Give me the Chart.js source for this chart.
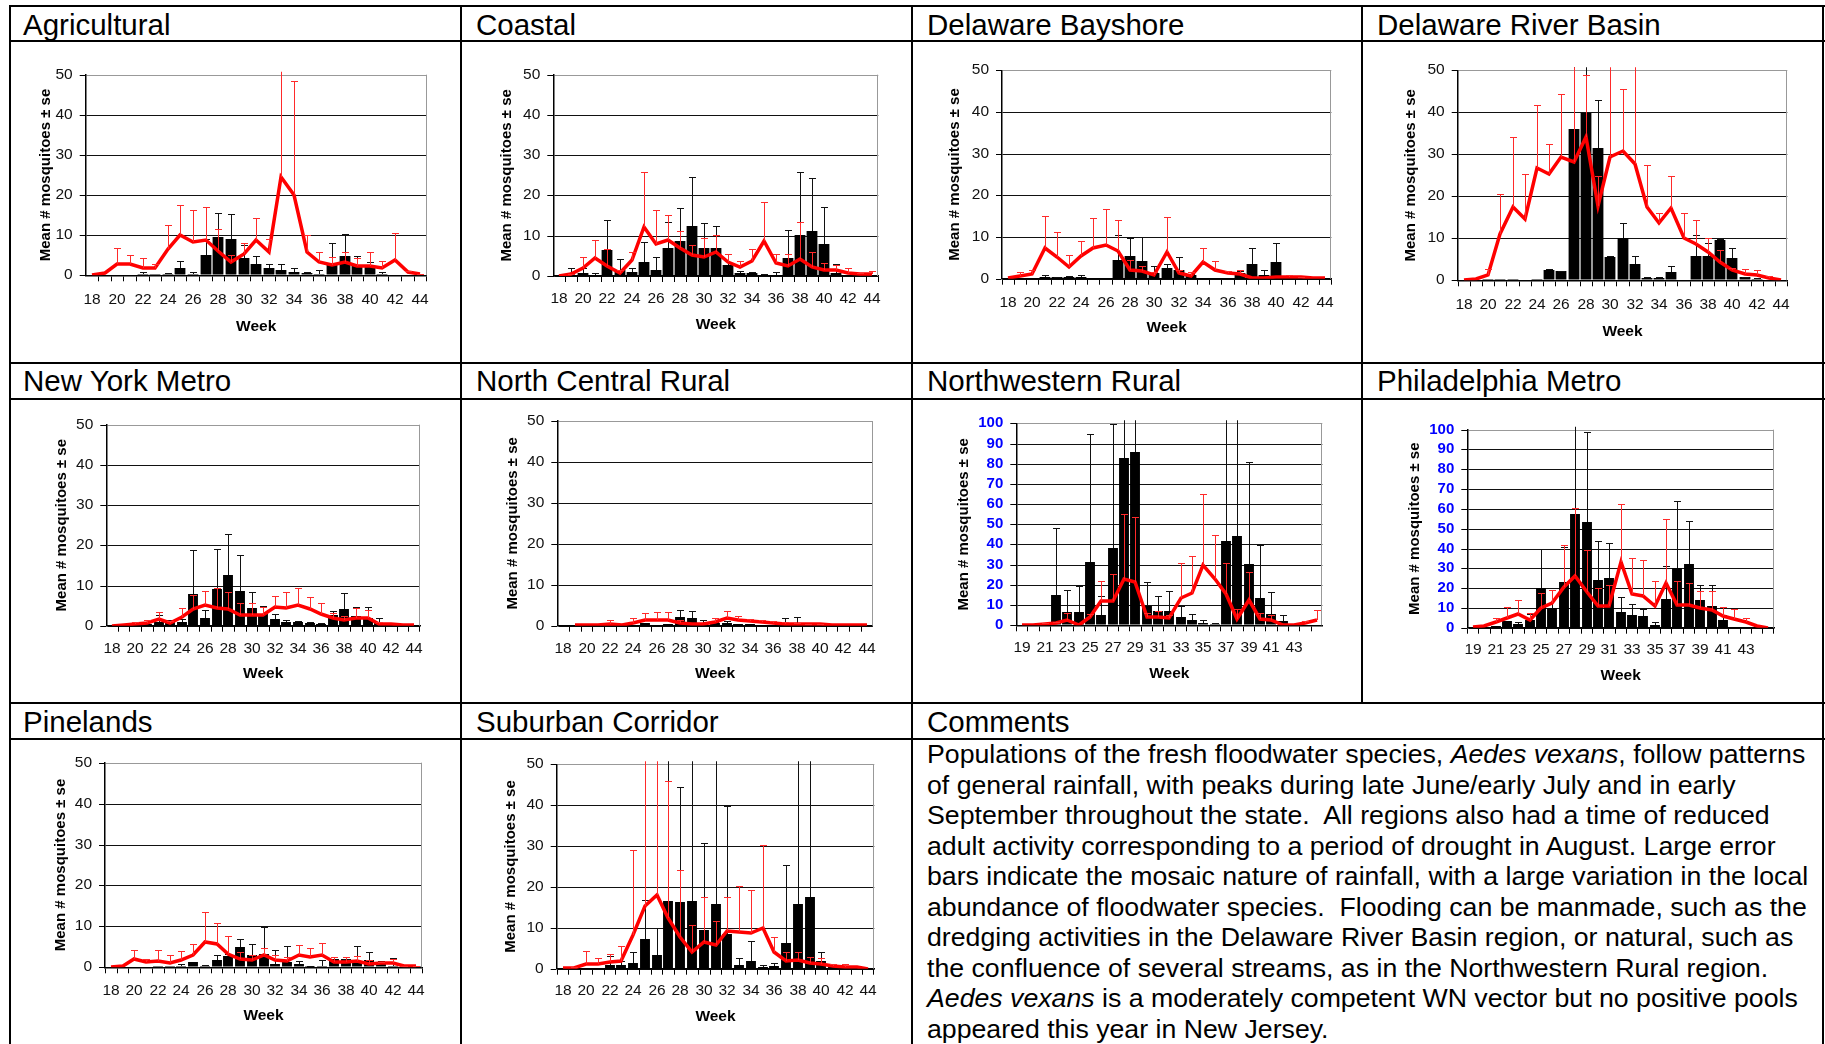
<!DOCTYPE html>
<html>
<head>
<meta charset="utf-8">
<script src="https://cdn.jsdelivr.net/npm/chart.js@4.4.1/dist/chart.umd.min.js"></script>
<style>
  html, body { margin: 0; padding: 0; background: #fff; }
  body { width: 1825px; height: 1044px; position: relative; overflow: hidden; font-family: "Liberation Sans", Arial, sans-serif; color: #000; }
  canvas { position: absolute; }
  .h, .v { position: absolute; background: #000; z-index: 2; }
  .h { height: 2px; }
  .v { width: 2px; }
  .ttl { position: absolute; font-size: 29.5px; line-height: 34px; white-space: nowrap; }
  #comments { position: absolute; left: 927px; top: 739px; font-size: 26.7px; line-height: 30.5px; white-space: nowrap; }
</style>
</head>
<body>
<div class="h" style="left:9px;top:5px;width:1816px"></div>
<div class="h" style="left:9px;top:40px;width:1816px"></div>
<div class="h" style="left:9px;top:362px;width:1816px"></div>
<div class="h" style="left:9px;top:398px;width:1816px"></div>
<div class="h" style="left:9px;top:702px;width:1816px"></div>
<div class="h" style="left:9px;top:738px;width:1816px"></div>
<div class="v" style="left:9px;top:5px;height:1039px"></div>
<div class="v" style="left:460px;top:5px;height:1039px"></div>
<div class="v" style="left:911px;top:5px;height:1039px"></div>
<div class="v" style="left:1361px;top:5px;height:699px"></div>
<div class="v" style="left:1822px;top:5px;height:1039px"></div>

<div class="ttl" style="left:23px;top:8px">Agricultural</div>
<div class="ttl" style="left:476px;top:8px">Coastal</div>
<div class="ttl" style="left:927px;top:8px">Delaware Bayshore</div>
<div class="ttl" style="left:1377px;top:8px">Delaware River Basin</div>
<div class="ttl" style="left:23px;top:364px">New York Metro</div>
<div class="ttl" style="left:476px;top:364px">North Central Rural</div>
<div class="ttl" style="left:927px;top:364px">Northwestern Rural</div>
<div class="ttl" style="left:1377px;top:364px">Philadelphia Metro</div>
<div class="ttl" style="left:23px;top:705px">Pinelands</div>
<div class="ttl" style="left:476px;top:705px">Suburban Corridor</div>
<div class="ttl" style="left:927px;top:705px">Comments</div>

<div id="comments">Populations of the fresh floodwater species, <i>Aedes vexans</i>, follow patterns<br>of general rainfall, with peaks during late June/early July and in early<br>September throughout the state.&nbsp; All regions also had a time of reduced<br>adult activity corresponding to a period of drought in August. Large error<br>bars indicate the mosaic nature of rainfall, with a large variation in the local<br>abundance of floodwater species.&nbsp; Flooding can be manmade, such as the<br>dredging activities in the Delaware River Basin region, or natural, such as<br>the confluence of several streams, as in the Northwestern Rural region.<br><i>Aedes vexans</i> is a moderately competent WN vector but no positive pools<br>appeared this year in New Jersey.</div>

<script>
// weeks on the x axis
const weeksA = ['18','19','20','21','22','23','24','25','26','27','28','29','30','31','32','33','34','35','36','37','38','39','40','41','42','43','44'];
const weeksB = ['19','20','21','22','23','24','25','26','27','28','29','30','31','32','33','34','35','36','37','38','39','40','41','42','43','44','45'];
const shownA = ['18','20','22','24','26','28','30','32','34','36','38','40','42','44'];
const shownB = ['19','21','23','25','27','29','31','33','35','37','39','41','43'];

// bars = black columns, line = red line; *Hi = top of the "+ se" error bar
const agriBars = [0, 0, 0.1, 0.1, 0.4, 0.2, 0.3, 1.8, 0.4, 5.0, 9.6, 9.1, 4.4, 2.9, 1.7, 1.4, 0.9, 0.6, 0.3, 2.7, 4.7, 2.6, 2.2, 0.4, 0, 0, 0];
const agriBarHi = [null, null, null, null, 0.8, null, 0.6, 3.5, 0.8, 9.1, 15.5, 15.2, 7.5, 4.9, 2.7, 2.9, 1.8, 0.7, 1.3, 8.1, 10.2, 4.8, 3.2, 0.7, null, null, null];
const agriLine = [0.1, 0.5, 2.7, 2.7, 1.9, 1.7, 6.5, 10.0, 8.2, 8.7, 6.1, 3.4, 5.2, 8.7, 5.9, 24.5, 20.0, 5.9, 3.4, 2.6, 3.2, 2.3, 2.2, 1.7, 3.7, 0.8, 0.2];
const agriLineHi = [null, null, 6.9, 5.1, 4.3, 2.9, 12.5, 17.6, 16.3, 17.0, 11.5, 5.1, 8.1, 14.2, 9.1, 60, 48.4, 10.0, 5.7, 4.6, 5.9, 4.2, 5.9, 3.6, 10.6, 1.1, 0.3];

const coastBars = [0, 0.3, 0.8, 0.3, 6.5, 1.4, 1.1, 3.6, 1.6, 7.0, 8.6, 12.4, 7.0, 7.0, 2.8, 0.8, 0.7, 0.3, 0.2, 4.4, 10.1, 11.2, 7.9, 0.8, 0, 0, 0];
const coastBarHi = [null, 2.1, 1.9, 0.7, 13.8, 4.1, 2.0, 8.5, 4.6, 13.4, 17.0, 24.7, 13.1, 12.3, 5.5, 1.2, 1.0, 0.4, 1.0, 11.5, 25.9, 24.3, 17.2, 3.0, null, null, null];
const coastLine = [0.1, 0.4, 1.9, 4.4, 2.5, 0.8, 4.0, 12.2, 8.0, 8.9, 7.0, 5.1, 4.8, 6.0, 3.5, 2.2, 3.7, 8.7, 3.3, 2.5, 4.3, 2.3, 1.6, 1.4, 0.8, 0.4, 0.5];
const coastLineHi = [null, 0.6, 4.8, 9.0, 6.8, 1.5, 6.0, 25.9, 16.4, 15.1, 11.3, 7.6, 9.5, 10.1, 5.5, 3.7, 6.8, 18.5, 5.5, 5.5, 13.3, 6.0, 3.3, 2.7, 2.0, 0.8, 1.3];

const bayBars = [0, 0.1, 0.1, 0.3, 0.4, 0.3, 0.5, 0.1, 0.1, 4.5, 5.4, 4.2, 1.4, 2.6, 2.2, 1.0, 0.2, 0.1, 0.1, 1.3, 3.5, 1.0, 4.0, 0.4, 0, 0, 0];
const bayBarHi = [null, null, null, 1.0, 0.5, 0.7, 1.0, null, null, 10.4, 9.8, 10.1, 3.1, 3.5, 5.1, 1.2, null, null, null, 1.8, 7.4, 2.2, 8.5, 0.9, null, null, null];
const bayLine = [0.2, 0.7, 1.2, 7.4, 5.2, 2.7, 5.4, 7.4, 8.2, 6.6, 2.2, 1.8, 1.0, 6.4, 1.3, 0.7, 4.0, 2.2, 1.3, 1.2, 0.2, 0.2, 0.3, 0.4, 0.3, 0.1, 0.1];
const bayLineHi = [null, 1.7, 2.1, 15.1, 11.3, 5.6, 9.0, 14.6, 16.7, 14.2, 4.6, 3.0, 1.6, 14.8, 2.0, 1.6, 7.4, 4.3, 1.8, 2.2, null, null, null, 0.8, 0.5, null, null];

const drbBars = [0, 0, 0.2, 0.3, 0.3, 0, 0.3, 2.5, 2.1, 36.0, 39.9, 31.5, 5.5, 10.1, 4.0, 0.6, 0.6, 2.0, 0, 5.7, 5.7, 9.6, 5.2, 0.8, 0.4, 0, 0];
const drbBarHi = [null, null, null, null, null, null, null, 2.7, 2.2, 54, 54, 42.9, 5.8, 13.7, 5.9, 0.7, 0.7, 3.4, null, 10.9, 9.0, 9.8, 7.8, 0.9, 0.5, null, null];
const drbLine = [0.1, 0.3, 1.3, 11.1, 17.5, 14.7, 26.7, 25.2, 29.4, 28.1, 34.0, 17.8, 29.4, 30.8, 27.6, 17.5, 13.7, 17.1, 10.1, 8.7, 6.7, 4.4, 2.4, 1.6, 1.3, 0.6, 0.1];
const drbLineHi = [null, null, 2.8, 20.6, 34.0, 25.3, 41.7, 32.5, 44.4, 55, 48.8, 24.8, 55, 45.6, 55, 27.4, 16.1, 24.9, 16.1, 14.4, 10.0, 7.3, 3.0, 2.8, 2.4, 1.0, null];

const nyBars = [0, 0, 0.3, 0.5, 1.0, 1.3, 0.8, 7.9, 1.8, 9.2, 12.6, 8.6, 4.3, 2.9, 1.6, 0.8, 0.8, 0.6, 0.4, 2.6, 4.2, 2.3, 1.8, 0.7, 0, 0, 0];
const nyBarHi = [null, null, null, 0.9, 2.7, 1.5, 1.7, 18.9, 4.0, 19.2, 22.9, 17.7, 8.4, 5.0, 2.9, 1.5, 1.2, 1.0, 0.6, 3.7, 8.2, 4.6, 4.7, 1.9, null, null, null];
const nyLine = [0, 0.1, 0.4, 0.7, 1.6, 0.6, 2.1, 4.1, 5.1, 4.5, 4.1, 2.7, 2.7, 2.7, 4.6, 4.3, 5.2, 4.2, 2.8, 1.9, 1.4, 1.9, 1.8, 0.4, 0.3, 0.1, 0.1];
const nyLineHi = [null, null, 0.8, 1.5, 3.5, 1.2, 4.5, 7.6, 8.6, 9.3, 8.5, 5.7, 5.6, 4.6, 7.5, 8.5, 9.4, 7.1, 5.7, 3.2, 2.4, 4.5, 4.0, 1.0, null, null, null];

const ncrBars = [0, 0, 0, 0, 0.3, 0, 0, 0.6, 0.2, 0.3, 2.2, 1.9, 0.4, 0.6, 0.6, 0.3, 0.3, 0.1, 0.2, 0.5, 0.7, 0, 0, 0, 0, 0, 0];
const ncrBarHi = [null, null, null, null, 0.6, null, null, null, null, null, 3.9, 3.7, 1.5, 1.0, 1.2, null, null, null, null, 2.0, 2.2, null, null, null, null, null, null];
const ncrLine = [null, 0.1, 0.1, 0.2, 0.3, 0.1, 0.7, 1.5, 1.3, 1.5, 0.7, 0.5, 0.5, 0.8, 2.0, 1.3, 1.1, 0.8, 0.7, 0.5, 0.3, 0.3, 0.3, 0.1, 0.1, 0.1, 0.1];
const ncrLineHi = [null, null, null, null, 1.3, null, 2.0, 3.0, 3.3, 3.3, 1.5, null, null, 2.0, 3.7, 2.4, 1.7, 1.4, 1.1, 0.8, 0.6, 0.5, 0.5, null, null, null, null];

const nwrBars = [0, 0, 0, 15.2, 6.4, 6.4, 31.4, 5.0, 38.1, 83.0, 85.8, 9.7, 6.9, 6.9, 4.0, 2.6, 1.3, 0.7, 41.9, 44.1, 30.4, 13.4, 5.6, 2.1, 0, 0, 0];
const nwrBarHi = [null, null, null, 48.0, 17.7, 19.5, 94.7, 14.7, 99.5, 110, 110, 21.6, 14.7, 17.2, 9.7, 5.4, 2.5, 0.9, 110, 110, 81.0, 39.9, 16.7, 5.3, null, null, null];
const nwrLine = [0.1, 0.2, 0.5, 1.2, 2.8, 0.3, 4.0, 11.9, 11.9, 22.9, 21.6, 4.3, 4.0, 3.6, 13.5, 15.8, 29.7, 22.9, 15.3, 3.1, 12.5, 3.1, 2.5, 0.3, 0, 1.2, 2.6];
const nwrLineHi = [null, null, 1.3, 1.8, 6.3, null, 5.6, 21.9, 25.2, 55.0, 53.6, 6.0, 7.1, 5.0, 30.7, 34.2, 64.9, 44.9, 31.0, 8.3, 26.6, 6.3, 5.3, null, null, 2.3, 7.4];

const phlBars = [0.3, 0.2, 1.0, 3.2, 1.7, 3.9, 20.2, 10.1, 23.1, 57.2, 53.4, 24.1, 25.1, 7.7, 6.6, 5.7, 1.5, 14.6, 30.0, 32.0, 14.1, 11.1, 3.7, 0, 0, 0, 0];
const phlBarHi = [null, null, null, null, 3.0, 7.1, 39.6, 19.0, 40.7, 105, 99.0, 43.8, 42.8, 15.7, 12.1, 9.6, 3.0, 31.0, 64.1, 53.9, 21.5, 21.5, 6.6, null, null, null, null];
const phlLine = [0.2, 0.7, 2.7, 4.9, 6.9, 3.7, 9.8, 12.6, 20.4, 26.3, 18.2, 11.1, 11.1, 33.3, 17.2, 16.2, 11.1, 22.4, 11.6, 11.3, 9.9, 8.9, 5.7, 4.2, 2.7, 0.7, 0];
const phlLineHi = [null, null, 5.1, 10.6, 14.1, 7.2, 17.5, 19.2, 41.9, 60.6, 39.4, 20.0, 21.5, 62.3, 35.4, 34.3, 23.6, 54.9, 23.6, 22.4, 18.5, 18.5, 10.6, 9.6, 5.1, null, null];

const pineBars = [0, 0, 0.1, 0.1, 0.3, 0.2, 0.3, 1.2, 0.3, 1.7, 2.8, 5.0, 2.9, 3.2, 0.8, 1.2, 0.8, 0.2, 0.2, 2.1, 2.0, 1.1, 1.7, 1.2, 0.4, 0, 0.2];
const pineBarHi = [null, null, null, null, null, null, 0.9, null, 0.5, 2.9, 3.2, 6.8, 5.6, 9.8, 4.2, 5.3, 1.6, 0.4, 1.7, 2.6, 2.0, 5.3, 3.7, 1.6, 2.2, null, null];
const pineLine = [0.1, 0.2, 2.0, 1.4, 1.5, 1.1, 1.9, 3.1, 6.1, 5.6, 3.3, 2.1, 1.8, 3.0, 1.8, 1.5, 2.9, 2.5, 2.9, 1.4, 1.4, 1.5, 0.9, 1.0, 1.0, 0.2, 0.2];
const pineLineHi = [null, null, 4.3, 2.1, 4.3, 2.9, 3.9, 5.8, 13.6, 10.9, 7.7, 3.7, 3.0, 4.8, 2.9, 2.6, 5.5, 4.6, 5.9, 2.4, 2.4, 2.8, 1.8, 1.4, 2.1, 0.3, 0.4];

const subBars = [0, 0, 0.2, 0.2, 1.0, 0.8, 1.3, 7.3, 3.4, 16.6, 16.4, 16.6, 9.4, 15.9, 8.4, 1.0, 1.8, 0.3, 0.6, 6.2, 15.9, 17.6, 1.8, 0.3, 0, 0, 0];
const subBarHi = [null, null, null, null, 3.0, 2.0, 4.0, 16.8, 9.9, 55, 44.4, 55, 30.8, 55, 39.7, 2.5, 6.7, 0.8, 1.5, 25.4, 55, 55, 4.0, 0.6, null, null, null];
const subLine = [0.1, 0.2, 1.2, 1.2, 1.7, 2.0, 8.2, 15.3, 18.0, 12.5, 7.8, 4.1, 6.5, 5.9, 9.2, 8.9, 8.8, 9.9, 4.0, 2.0, 2.1, 1.5, 1.2, 0.6, 0.5, 0.3, 0];
const subLineHi = [null, 0.5, 4.4, 2.6, 3.7, 5.6, 29.1, 55, 55, 46.0, 24.1, 10.8, 17.6, 11.7, 17.5, 20.3, 19.3, 30.3, 7.8, 4.2, 4.2, 2.9, 2.6, 1.1, 1.2, null, null];

// cell = canvas box; g = where the plot, axis title, tick labels and "Week" sit
const panels = [
  { cell: [11, 42, 449, 320], g: { l: 85.7, r: 426.7, t: 74.7, b: 275.3, yt: 46, xl: 299, wk: 327 },
    weeks: weeksA, shown: shownA, bars: agriBars, barHi: agriBarHi, line: agriLine, lineHi: agriLineHi, max: 50 },
  { cell: [462, 42, 449, 320], g: { l: 553.3, r: 878.3, t: 74.7, b: 276, yt: 506.7, xl: 298.7, wk: 325 },
    weeks: weeksA, shown: shownA, bars: coastBars, barHi: coastBarHi, line: coastLine, lineHi: coastLineHi, max: 50 },
  { cell: [913, 42, 448, 320], g: { l: 1002, r: 1331.3, t: 70.3, b: 278.7, yt: 955.3, xl: 302, wk: 328 },
    weeks: weeksA, shown: shownA, bars: bayBars, barHi: bayBarHi, line: bayLine, lineHi: bayLineHi, max: 50 },
  { cell: [1363, 42, 459, 320], g: { l: 1457.7, r: 1787.3, t: 70.3, b: 280.3, yt: 1411, xl: 304.3, wk: 331.7 },
    weeks: weeksA, shown: shownA, bars: drbBars, barHi: drbBarHi, line: drbLine, lineHi: drbLineHi, max: 50 },
  { cell: [11, 400, 449, 302], g: { l: 106.3, r: 420, t: 424.7, b: 625.7, yt: 61.7, xl: 648, wk: 673.7 },
    weeks: weeksA, shown: shownA, bars: nyBars, barHi: nyBarHi, line: nyLine, lineHi: nyLineHi, max: 50 },
  { cell: [462, 400, 449, 302], g: { l: 557.3, r: 872.7, t: 421, b: 625.7, yt: 512.7, xl: 648, wk: 673.7 },
    weeks: weeksA, shown: shownA, bars: ncrBars, barHi: ncrBarHi, line: ncrLine, lineHi: ncrLineHi, max: 50 },
  { cell: [913, 400, 448, 302], g: { l: 1016.3, r: 1322.3, t: 423.3, b: 625.3, yt: 964.3, xl: 647.3, wk: 674 },
    weeks: weeksB, shown: shownB, bars: nwrBars, barHi: nwrBarHi, line: nwrLine, lineHi: nwrLineHi, max: 100 },
  { cell: [1363, 400, 459, 302], g: { l: 1467.3, r: 1774, t: 429.7, b: 627.7, yt: 1415.3, xl: 649.7, wk: 675.7 },
    weeks: weeksB, shown: shownB, bars: phlBars, barHi: phlBarHi, line: phlLine, lineHi: phlLineHi, max: 100 },
  { cell: [11, 740, 449, 304], g: { l: 105, r: 422, t: 762.7, b: 967.3, yt: 60.7, xl: 990, wk: 1016 },
    weeks: weeksA, shown: shownA, bars: pineBars, barHi: pineBarHi, line: pineLine, lineHi: pineLineHi, max: 50 },
  { cell: [462, 740, 449, 304], g: { l: 556.7, r: 874.3, t: 764.3, b: 968.7, yt: 511, xl: 990.7, wk: 1016.7 },
    weeks: weeksA, shown: shownA, bars: subBars, barHi: subBarHi, line: subLine, lineHi: subLineHi, max: 50 },
];

Chart.defaults.font.family = '"Liberation Sans", Arial, sans-serif';
Chart.defaults.color = '#111';

// vertical "+ se" whiskers with a short cap, drawn right after their own dataset
const errorBars = {
  id: "errorBars",
  afterDatasetDraw(chart, args) {
    const ds = chart.data.datasets[args.index];
    if (!ds.upper) return;
    const { ctx, chartArea: a, scales: { x, y } } = chart;
    ctx.save();
    ctx.beginPath();
    ctx.rect(a.left, a.top - 3, a.right - a.left, a.bottom - a.top + 3);
    ctx.clip();
    ctx.strokeStyle = ds.errColor;
    ctx.lineWidth = 1;
    ds.upper.forEach((hi, i) => {
      const v = ds.data[i];
      if (hi == null || v == null) return;
      const px = Math.round(x.getPixelForValue(i)) + 0.5;
      const y0 = y.getPixelForValue(v);
      const y1 = Math.round(y.getPixelForValue(hi)) + 0.5;
      ctx.beginPath();
      ctx.moveTo(px, y0);
      ctx.lineTo(px, y1);
      ctx.moveTo(px - 3.5, y1);
      ctx.lineTo(px + 3.5, y1);
      ctx.stroke();
    });
    ctx.restore();
  },
};

// grey right edge of the plot area
const plotFrame = {
  id: "plotFrame",
  beforeDatasetsDraw(chart) {
    const { ctx, chartArea: a } = chart;
    const xr = Math.round(a.right) - 0.5;
    ctx.save();
    ctx.strokeStyle = "#999";
    ctx.lineWidth = 1;
    ctx.beginPath();
    ctx.moveTo(xr, a.top);
    ctx.lineTo(xr, a.bottom);
    ctx.stroke();
    ctx.restore();
  },
};

panels.forEach((p) => {
  const [cx, cy, cw, ch] = p.cell;
  const g = p.g;
  const cv = document.createElement("canvas");
  cv.width = cw;
  cv.height = ch;
  cv.style.left = cx + "px";
  cv.style.top = cy + "px";
  cv.style.width = cw + "px";
  cv.style.height = ch + "px";
  document.body.appendChild(cv);

  const padLeft = g.yt - 7.5 - cx;
  const yWidth = g.l - g.yt + 7.5;
  const padTop = g.t - cy;
  const padRight = cx + cw - g.r;
  const padBottom = cy + ch - (g.wk + 7.5);
  const xHeight = g.wk + 7.5 - g.b;
  const xTickPad = g.xl - g.b - 6 - 9;
  const blue = p.max === 100;

  new Chart(cv, {
    type: "bar",
    data: {
      labels: p.weeks,
      datasets: [
        {
          type: "line",
          label: "Red line",
          data: p.line,
          borderColor: "#ff0000",
          borderWidth: 3.5,
          pointRadius: 0,
          tension: 0,
          order: 1,
          upper: p.lineHi,
          errColor: "#ff2a2a",
        },
        {
          type: "bar",
          label: "Black bars",
          data: p.bars,
          backgroundColor: "#000",
          barPercentage: 0.9,
          categoryPercentage: 1,
          order: 2,
          upper: p.barHi,
          errColor: "#111",
        },
      ],
    },
    options: {
      responsive: false,
      animation: false,
      layout: { padding: { left: padLeft, top: padTop, right: padRight, bottom: padBottom } },
      plugins: { legend: { display: false }, tooltip: { enabled: false } },
      scales: {
        x: {
          alignToPixels: true,
          afterFit: (s) => { s.height = xHeight; },
          ticks: {
            autoSkip: false,
            maxRotation: 0,
            padding: xTickPad,
            color: "#111",
            font: { size: 15.5 },
            callback: (v, i) => (p.shown.includes(p.weeks[i]) ? p.weeks[i] : ""),
          },
          grid: { drawOnChartArea: false, drawTicks: true, tickLength: 6, tickColor: "#000", offset: true },
          border: { display: true, color: "#000", width: 1.5 },
          title: { display: true, text: "Week", color: "#000", padding: 0, font: { size: 15.5, weight: "bold", lineHeight: 1 } },
        },
        y: {
          min: 0,
          max: p.max,
          alignToPixels: true,
          afterFit: (s) => { s.width = yWidth; },
          ticks: {
            stepSize: 10,
            autoSkip: false,
            padding: 7,
            color: blue ? "#0000ff" : "#111",
            font: { size: blue ? 15 : 15.5, weight: blue ? "bold" : "normal" },
          },
          grid: {
            color: (c) => (c.tick && c.tick.value === p.max ? "#999" : "#111"),
            tickColor: "#000",
            tickLength: 6,
            lineWidth: 1,
          },
          border: { display: true, color: "#000", width: 1.5 },
          title: { display: true, text: "Mean # mosquitoes ± se", color: "#000", padding: 0, font: { size: 15, weight: "bold", lineHeight: 1 } },
        },
      },
    },
    plugins: [plotFrame, errorBars],
  });
});
</script>
</body>
</html>
